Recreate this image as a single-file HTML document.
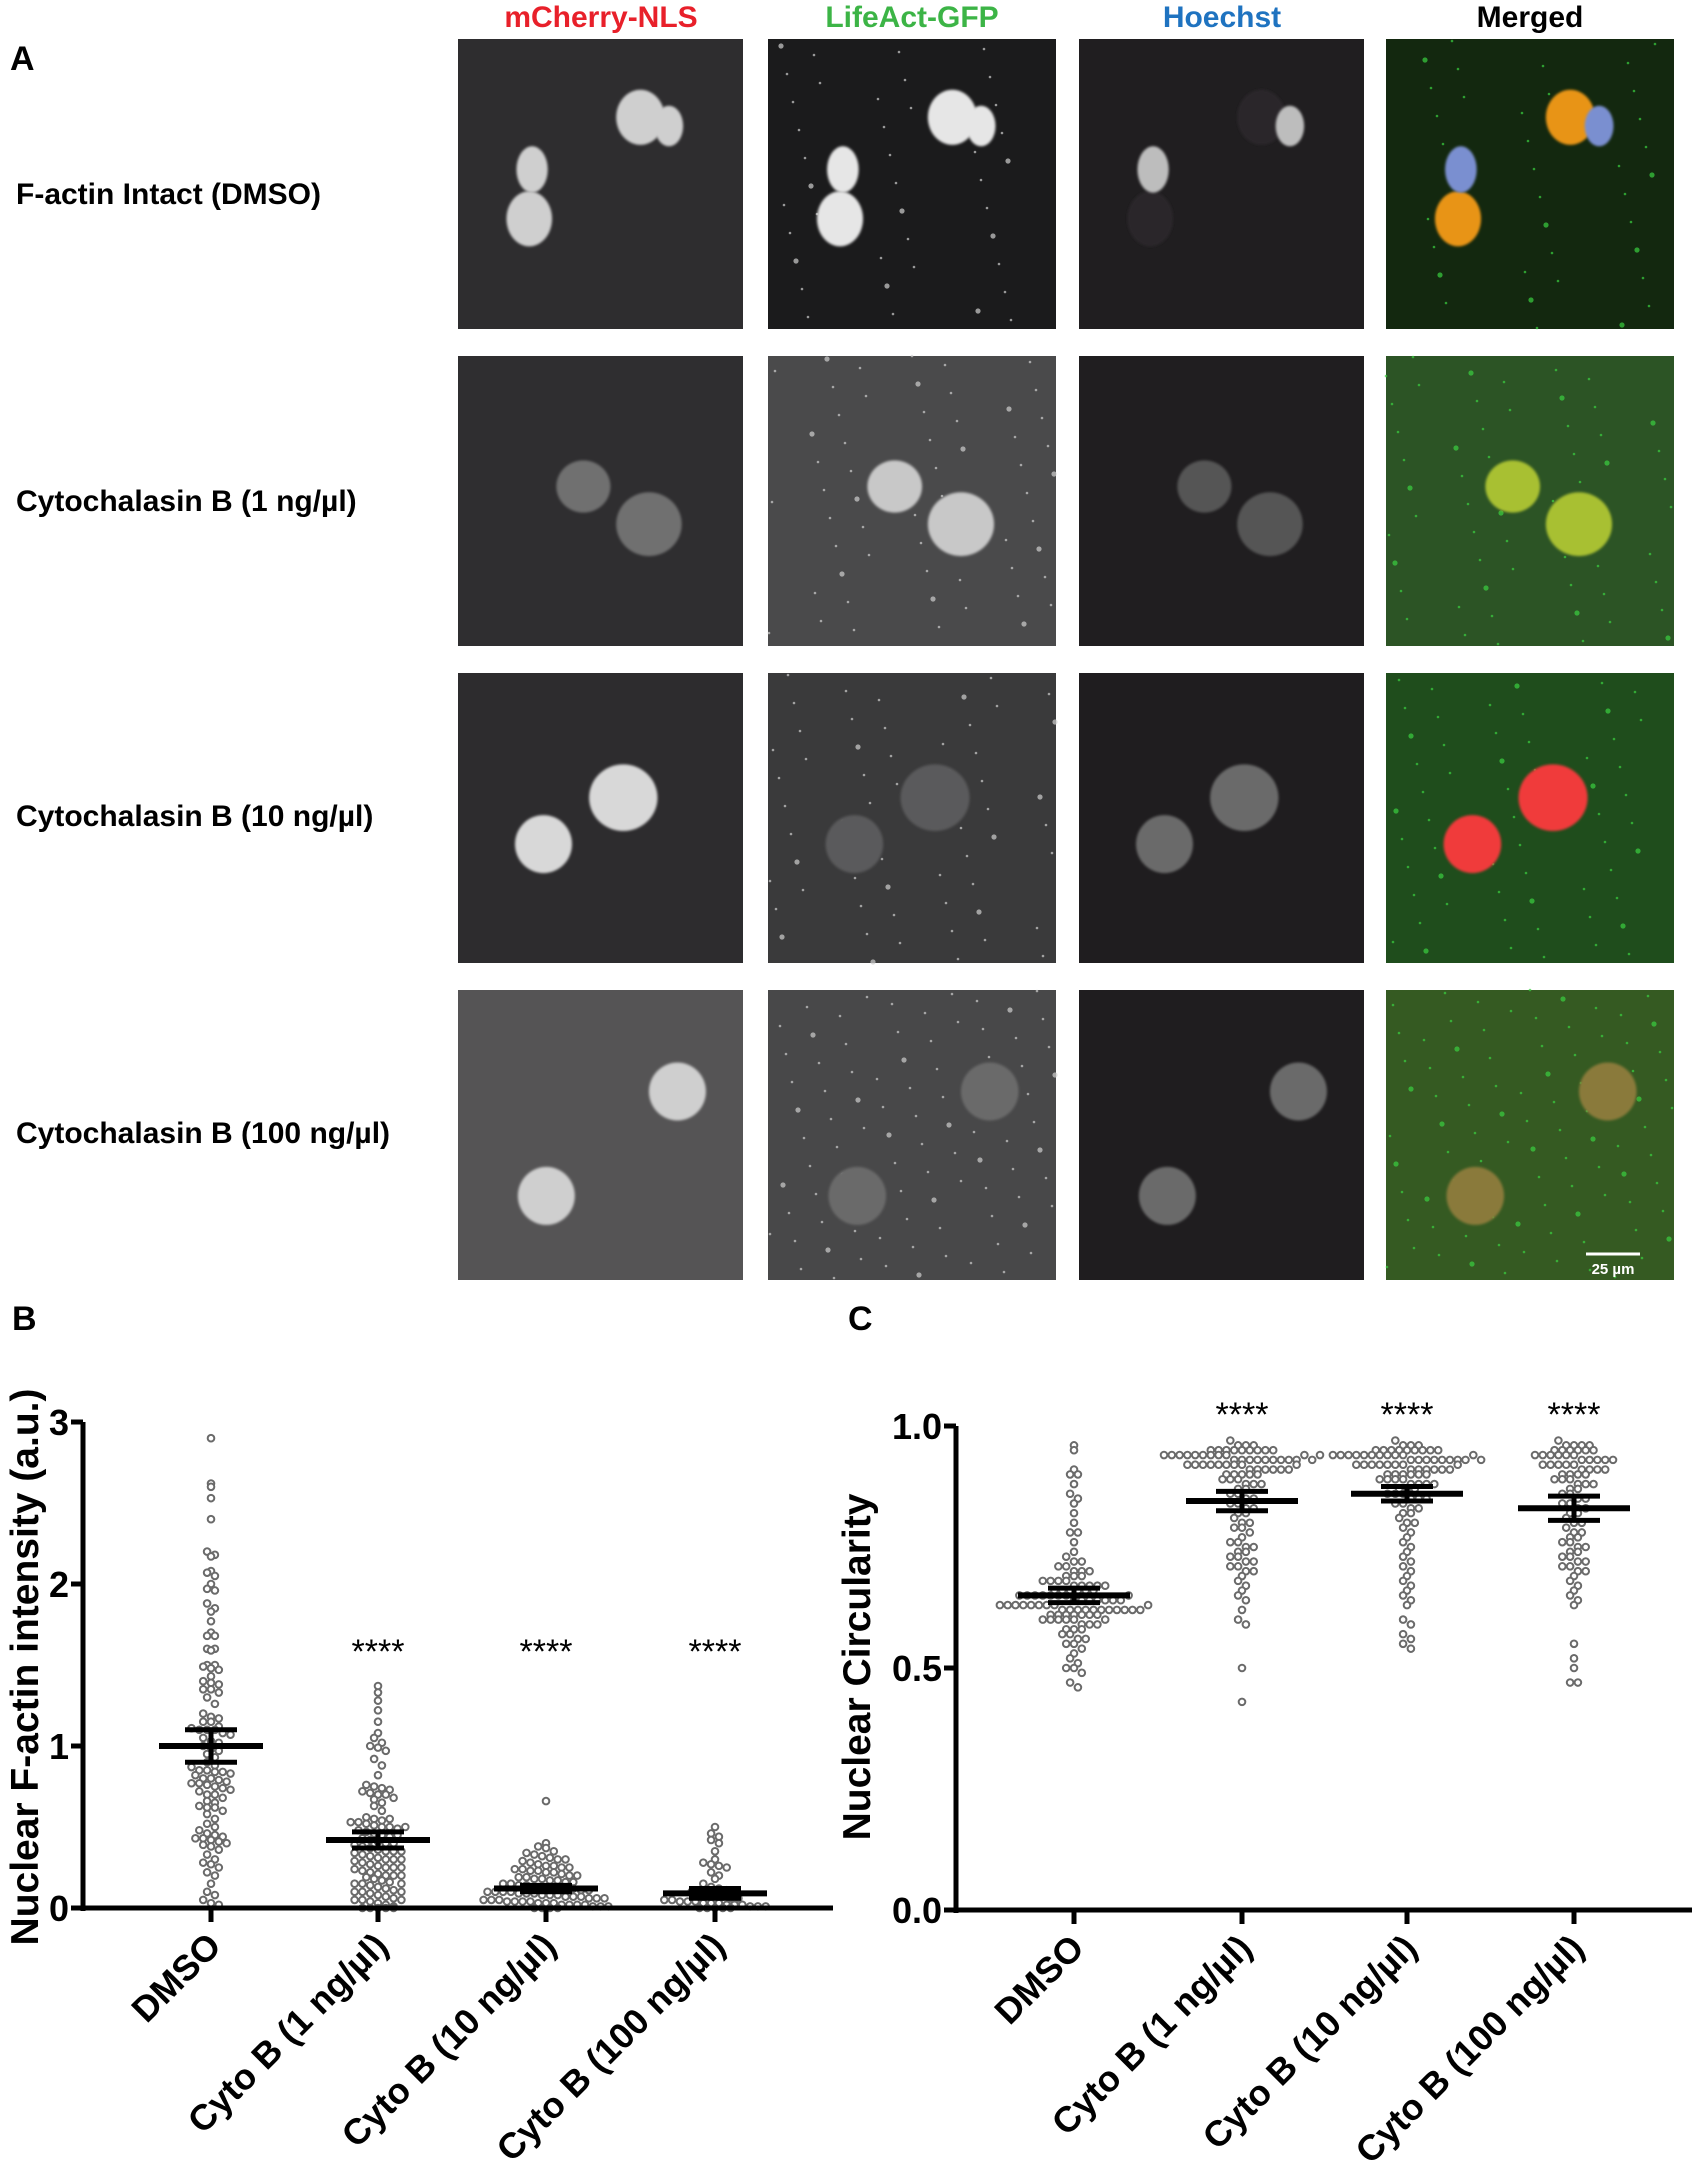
<!DOCTYPE html>
<html><head><meta charset="utf-8"><style>
html,body{margin:0;padding:0;background:#fff}
svg{display:block}
text{font-family:"Liberation Sans",Arial,sans-serif}
</style></head><body>
<svg id="fig" width="1692" height="2175" viewBox="0 0 1692 2175" xmlns="http://www.w3.org/2000/svg">
<defs>
<filter id="blur1" x="-50%" y="-50%" width="200%" height="200%"><feGaussianBlur stdDeviation="1.2"/></filter>
</defs>
<text x="10" y="70" font-size="34" font-weight="bold">A</text>
<text x="601" y="27" font-size="30" font-weight="bold" fill="#e8202a" text-anchor="middle">mCherry-NLS</text>
<text x="912" y="27" font-size="30" font-weight="bold" fill="#3cb446" text-anchor="middle">LifeAct-GFP</text>
<text x="1222" y="27" font-size="30" font-weight="bold" fill="#1f73c0" text-anchor="middle">Hoechst</text>
<text x="1530" y="27" font-size="30" font-weight="bold" fill="#000" text-anchor="middle">Merged</text>
<text x="16" y="204" font-size="30" font-weight="bold">F-actin Intact (DMSO)</text>
<text x="16" y="511" font-size="30" font-weight="bold">Cytochalasin B (1 ng/µl)</text>
<text x="16" y="826" font-size="30" font-weight="bold">Cytochalasin B (10 ng/µl)</text>
<text x="16" y="1143" font-size="30" font-weight="bold">Cytochalasin B (100 ng/µl)</text>
<g id="micro"></g>
<text x="12" y="1330" font-size="34" font-weight="bold">B</text>
<text x="848" y="1330" font-size="34" font-weight="bold">C</text>
<g id="chartB"></g>
<g id="chartC"></g>
</svg>
<script>
// ---------- Chart data ----------
const categories = ["DMSO","Cyto B (1 ng/µl)","Cyto B (10 ng/µl)","Cyto B (100 ng/µl)"];
const bTicks = [0,1,2,3];
const cTicks = [0.0,0.5,1.0];
const bDMSO = [2.9,2.62,2.6,2.53,2.4,2.2,2.18,2.17,2.08,2.07,2.05,2.0,1.97,1.96,1.88,1.85,1.83,1.77,1.7,1.68,1.68,1.6,1.6,1.59,1.5,1.5,1.49,1.48,1.47,1.43,1.4,1.39,1.38,1.35,1.35,1.33,1.3,1.26,1.2,1.18,1.17,1.15,1.15,1.12,1.11,1.1,1.1,1.1,1.08,1.07,1.05,1.03,1.02,1.0,0.98,0.97,0.95,0.93,0.9,0.88,0.87,0.85,0.85,0.84,0.84,0.83,0.82,0.8,0.8,0.79,0.78,0.77,0.77,0.76,0.75,0.74,0.73,0.72,0.7,0.7,0.68,0.66,0.65,0.63,0.62,0.62,0.6,0.58,0.55,0.52,0.5,0.48,0.46,0.45,0.44,0.43,0.43,0.42,0.41,0.4,0.39,0.38,0.36,0.33,0.3,0.28,0.27,0.25,0.22,0.2,0.15,0.1,0.08,0.05,0.03,0.02];
const bCyto1 = [1.37,1.33,1.28,1.22,1.15,1.08,1.05,1.02,1.0,0.99,0.97,0.92,0.88,0.82,0.76,0.75,0.74,0.73,0.72,0.71,0.7,0.7,0.68,0.67,0.65,0.63,0.6,0.56,0.55,0.54,0.53,0.53,0.52,0.51,0.5,0.5,0.49,0.48,0.47,0.46,0.45,0.44,0.43,0.42,0.41,0.4,0.39,0.38,0.37,0.36,0.35,0.35,0.34,0.33,0.32,0.31,0.3,0.3,0.29,0.28,0.27,0.26,0.25,0.25,0.24,0.23,0.22,0.21,0.2,0.2,0.19,0.18,0.17,0.16,0.15,0.15,0.14,0.13,0.12,0.11,0.1,0.1,0.09,0.08,0.07,0.06,0.05,0.05,0.04,0.03,0.02,0.01,0.0,0.0,0.0,0.0,0.0,0.55,0.45,0.35,0.25,0.15,0.05,0.5,0.4,0.3,0.2,0.1];
const bCyto10 = [0.66,0.4,0.38,0.37,0.35,0.34,0.33,0.32,0.31,0.3,0.3,0.29,0.28,0.27,0.26,0.26,0.25,0.25,0.24,0.24,0.23,0.23,0.22,0.22,0.21,0.2,0.2,0.19,0.19,0.18,0.18,0.17,0.17,0.16,0.16,0.15,0.15,0.14,0.14,0.13,0.13,0.13,0.12,0.12,0.12,0.11,0.11,0.1,0.1,0.1,0.1,0.09,0.09,0.09,0.08,0.08,0.08,0.07,0.07,0.07,0.06,0.06,0.06,0.05,0.05,0.05,0.04,0.04,0.04,0.04,0.03,0.03,0.03,0.02,0.02,0.02,0.02,0.01,0.01,0.01,0.0,0.0,0.0,0.0];
const bCyto100 = [0.5,0.46,0.44,0.42,0.4,0.35,0.3,0.28,0.27,0.26,0.25,0.22,0.2,0.18,0.15,0.13,0.12,0.11,0.1,0.1,0.09,0.08,0.07,0.06,0.06,0.05,0.05,0.04,0.04,0.04,0.03,0.03,0.03,0.02,0.02,0.02,0.01,0.01,0.01,0.0,0.0,0.0,0.0,0.0];
const bMeans = [1.0,0.42,0.12,0.09];
const bSems = [0.1,0.05,0.02,0.03];
const cDMSO = [0.96,0.95,0.91,0.9,0.9,0.88,0.86,0.85,0.84,0.82,0.8,0.78,0.78,0.76,0.74,0.73,0.72,0.72,0.71,0.71,0.7,0.7,0.7,0.69,0.69,0.69,0.68,0.68,0.68,0.68,0.67,0.67,0.67,0.67,0.67,0.66,0.66,0.66,0.66,0.66,0.66,0.65,0.65,0.65,0.65,0.65,0.65,0.65,0.64,0.64,0.64,0.64,0.64,0.64,0.63,0.63,0.63,0.63,0.63,0.63,0.63,0.63,0.62,0.62,0.62,0.62,0.62,0.62,0.62,0.62,0.62,0.62,0.61,0.61,0.61,0.61,0.61,0.61,0.6,0.6,0.6,0.6,0.6,0.59,0.59,0.59,0.58,0.58,0.58,0.57,0.57,0.56,0.56,0.55,0.55,0.54,0.53,0.52,0.51,0.5,0.5,0.49,0.47,0.46,0.62,0.63,0.64,0.65,0.61,0.6];
const cCyto1 = [0.97,0.96,0.96,0.96,0.95,0.95,0.95,0.95,0.95,0.95,0.95,0.94,0.94,0.94,0.94,0.94,0.94,0.94,0.94,0.94,0.93,0.93,0.93,0.93,0.93,0.93,0.93,0.93,0.93,0.92,0.92,0.92,0.92,0.92,0.92,0.92,0.92,0.91,0.91,0.91,0.91,0.91,0.91,0.9,0.9,0.9,0.9,0.9,0.89,0.89,0.89,0.88,0.88,0.88,0.87,0.87,0.86,0.86,0.85,0.85,0.84,0.84,0.83,0.83,0.82,0.82,0.81,0.8,0.8,0.79,0.79,0.78,0.77,0.76,0.76,0.75,0.75,0.74,0.74,0.73,0.73,0.72,0.72,0.71,0.71,0.7,0.7,0.69,0.68,0.67,0.66,0.65,0.64,0.62,0.6,0.59,0.5,0.43,0.95,0.94,0.93,0.92,0.95,0.94];
const cCyto10 = [0.97,0.96,0.96,0.95,0.95,0.95,0.95,0.95,0.95,0.95,0.95,0.94,0.94,0.94,0.94,0.94,0.94,0.94,0.94,0.94,0.94,0.93,0.93,0.93,0.93,0.93,0.93,0.93,0.93,0.92,0.92,0.92,0.92,0.92,0.92,0.92,0.91,0.91,0.91,0.91,0.91,0.91,0.9,0.9,0.9,0.9,0.9,0.9,0.89,0.89,0.89,0.89,0.88,0.88,0.88,0.88,0.87,0.87,0.87,0.86,0.86,0.86,0.85,0.85,0.85,0.84,0.84,0.83,0.83,0.82,0.82,0.81,0.8,0.8,0.79,0.78,0.77,0.76,0.75,0.74,0.73,0.72,0.71,0.7,0.69,0.68,0.67,0.66,0.65,0.64,0.63,0.6,0.59,0.57,0.56,0.55,0.54,0.96,0.95,0.94,0.93,0.92];
const cCyto100 = [0.97,0.96,0.96,0.96,0.96,0.95,0.95,0.95,0.95,0.95,0.95,0.94,0.94,0.94,0.94,0.94,0.94,0.93,0.93,0.93,0.93,0.93,0.92,0.92,0.92,0.92,0.92,0.91,0.91,0.91,0.91,0.9,0.9,0.9,0.9,0.89,0.89,0.89,0.88,0.88,0.88,0.87,0.87,0.86,0.86,0.85,0.85,0.84,0.84,0.83,0.83,0.82,0.82,0.81,0.8,0.8,0.79,0.78,0.78,0.77,0.77,0.76,0.76,0.75,0.75,0.74,0.74,0.73,0.73,0.72,0.72,0.71,0.71,0.7,0.7,0.69,0.68,0.67,0.66,0.65,0.64,0.63,0.55,0.52,0.5,0.47,0.47];
const cMeans = [0.65,0.845,0.86,0.83];
const cSems = [0.015,0.02,0.015,0.025];

const NS = "http://www.w3.org/2000/svg";
function mk(tag, attrs, parent){const e=document.createElementNS(NS,tag);for(const k in attrs)e.setAttribute(k,attrs[k]);parent.appendChild(e);return e;}

function drawChart(g, cfg){
  const yS = v => cfg.y0 + (v - cfg.vmin)/(cfg.vmax - cfg.vmin)*(cfg.y1 - cfg.y0);
  const xS = i => cfg.xc[i];
  cfg.groups.forEach((vals, gi) => {
    const bins = {};
    vals.forEach(v => {const b=Math.round((yS(v))/cfg.dot); (bins[b]=bins[b]||[]).push(v);});
    Object.keys(bins).forEach(b => {
      const arr = bins[b];
      arr.forEach((v, k) => {
        const off = (k - (arr.length-1)/2)*cfg.dot;
        const c = mk('circle',{cx:xS(gi)+off, cy:yS(v), r:3.3, fill:'#fff', stroke:'#6a6a6a','stroke-width':2}, g);
        
        
      });
    });
  });
  cfg.means.forEach((m, gi) => {
    const x = xS(gi), s = cfg.sems[gi];
    const ml = mk('line',{x1:x-cfg.mw,x2:x+cfg.mw,y1:yS(m),y2:yS(m),stroke:'#000','stroke-width':6}, g);
    
    
    const el = mk('path',{d:`M${x},${yS(m+s)}V${yS(m-s)}M${x-26},${yS(m+s)}H${x+26}M${x-26},${yS(m-s)}H${x+26}`,stroke:'#000','stroke-width':5,fill:'none'}, g);
    
    
    if (gi>0){
      const st = mk('text',{x:x,y:cfg.starY,'font-size':34,'text-anchor':'middle'}, g);
      st.textContent='****';
      
      
    }
  });
  const ya = mk('path',{d:`M${cfg.ax},${yS(cfg.vmax)}V${cfg.y0+3}`,stroke:'#000','stroke-width':5,fill:'none'}, g);
  
  
  const xa = mk('path',{d:`M${cfg.ax-3},${cfg.y0}H${cfg.axEnd}`,stroke:'#000','stroke-width':5,fill:'none'}, g);
  
  
  cfg.ticks.forEach(t => {
    const tl = mk('line',{x1:cfg.ax-12,x2:cfg.ax,y1:yS(t),y2:yS(t),stroke:'#000','stroke-width':5}, g);
    
    
    const tx = mk('text',{x:cfg.ax-14,y:yS(t)+13,'font-size':36,'font-weight':'bold','text-anchor':'end'}, g);
    tx.textContent = cfg.fmt(t);
    
    
  });
  categories.forEach((c, gi) => {
    const x = xS(gi);
    const tl = mk('line',{x1:x,x2:x,y1:cfg.y0,y2:cfg.y0+14,stroke:'#000','stroke-width':5}, g);
    
    
    const tx = mk('text',{x:x+12,y:cfg.y0+40,'font-size':36,'font-weight':'bold','text-anchor':'end',transform:`rotate(-45 ${x+12} ${cfg.y0+40})`}, g);
    tx.textContent = c;
    
    
  });
  const yt = mk('text',{x:cfg.titleX,y:cfg.titleY,'font-size':39,'font-weight':'bold','text-anchor':'middle',transform:`rotate(-90 ${cfg.titleX} ${cfg.titleY})`}, g);
  yt.textContent = cfg.title;
  
  
}

drawChart(document.getElementById('chartB'), {
  vmin:0, vmax:3, y0:1908, y1:1422, xc:[211,378,546,715], ax:83, axEnd:833, dot:7.8,
  groups:[bDMSO,bCyto1,bCyto10,bCyto100], means:bMeans, sems:bSems, ticks:bTicks,
  fmt:t=>String(t), mw:52, starY:1663, title:'Nuclear F-actin intensity (a.u.)', titleX:38, titleY:1667
});
drawChart(document.getElementById('chartC'), {
  vmin:0, vmax:1, y0:1910, y1:1426, xc:[1074,1242,1407,1574], ax:956, axEnd:1692, dot:7.8,
  groups:[cDMSO,cCyto1,cCyto10,cCyto100], means:cMeans, sems:cSems, ticks:cTicks,
  fmt:t=>t.toFixed(1), mw:56, starY:1426, title:'Nuclear Circularity', titleX:870, titleY:1667
});

// ---------- Micrographs ----------
const colX = [458,768,1079,1386], colW = [285,288,285,288];
const rowY = [39,356,673,990], rowH = 290;
const chanNames = ['mcherry','lifeact','hoechst','merged'];
const bgs = [
 ['#2e2d2f','#1b1b1c','#201e20','#13280f'],
 ['#2f2e30','#4a4a4b','#201e20','#2c5425'],
 ['#2d2c2e','#3a3a3b','#1f1d1f','#1f4d1c'],
 ['#555455','#484849','#1f1d1f','#355a22']
];
const cells = [
 [[0.64,0.27,0.085,0.095],[0.74,0.30,0.05,0.07],[0.25,0.62,0.08,0.095],[0.26,0.45,0.055,0.08]],
 [[0.44,0.45,0.095,0.09],[0.67,0.58,0.115,0.11]],
 [[0.58,0.43,0.12,0.115],[0.30,0.59,0.1,0.1]],
 [[0.77,0.35,0.1,0.1],[0.31,0.71,0.1,0.1]]
];
const fills = [
 ['#cfcfcf','#e6e6e6','#bdbdbd','#e89418'],
 ['#6f6f70','#c8c8c8','#555','#a8c030'],
 ['#d8d8d8','#5a5a5b','#6a6a6a','#f03a3a'],
 ['#cfcfcf','#6a6a6a','#6a6a6a','#8a7a3a']
];
const micro = document.getElementById('micro');
rowY.forEach((ry, r) => {
  colX.forEach((cx, c) => {
    const w = colW[c];
    const rect = mk('rect',{x:cx,y:ry,width:w,height:rowH,fill:bgs[r][c]}, micro);
    
    
    if (c===1 || c===3){
      const col = c===1 ? '#cfcfcf' : '#3bd040';
      const n = r===0 ? 40 : (r===3 ? 90 : 60);
      for (let k=0;k<n;k++){
        const px = cx + ((k*97 + r*31 + c*13) % w);
        const py = ry + ((k*53 + r*71 + c*7) % rowH);
        const s = mk('circle',{cx:px,cy:py,r:(k%5===0?2.6:1.3),fill:col,opacity:0.7}, micro);
        
        
      }
    }
    cells[r].forEach((ce, ci) => {
      let f = fills[r][c];
      if (r===0 && (ci===1 || ci===3)) {
        if (c===3) f = '#7a8fd0';
      } else if (r===0 && c===2) {
        f = '#2a282a';
      }
      const e = mk('ellipse',{cx:cx+ce[0]*w, cy:ry+ce[1]*rowH, rx:ce[2]*w, ry:ce[3]*rowH, fill:f, filter:'url(#blur1)'}, micro);
      
      
    });
  });
});
const sb = mk('line',{x1:1586,x2:1640,y1:1254,y2:1254,stroke:'#fff','stroke-width':3}, micro);


const sbt = mk('text',{x:1613,y:1274,'font-size':15,'font-weight':'bold',fill:'#fff','text-anchor':'middle'}, micro);
sbt.textContent = '25 µm';


</script>
</body></html>
